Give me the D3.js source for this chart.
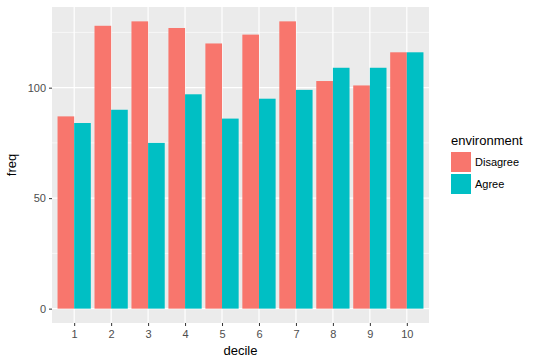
<!DOCTYPE html>
<html>
<head>
<meta charset="utf-8">
<script src="https://cdn.jsdelivr.net/npm/d3@7"></script>
<style>
  body { margin: 0; background: #fff; }
  text { font-family: "Liberation Sans", Arial, sans-serif; }
</style>
</head>
<body>
<div id="chart"></div>
<script>
// values
var deciles = ["1", "2", "3", "4", "5", "6", "7", "8", "9", "10"];
var groups = ["Disagree", "Agree"];
var disagree = [87, 128, 130, 127, 120, 124, 130, 103, 101, 116];
var agree = [84, 90, 75, 97, 86, 95, 99, 109, 109, 116];
var yTicks = [0, 50, 100];
var yMinor = [25, 75, 125];
var colors = ["#F8766D", "#00BFC4"];

var width = 540, height = 362;
var margin = { top: 7, right: 111, bottom: 39, left: 52 };
var pw = width - margin.left - margin.right,
    ph = height - margin.top - margin.bottom;

var rows = deciles.map(function(d, i) {
    return { decile: d, values: [disagree[i], agree[i]] };
});

var svg = d3.select("#chart").append("svg")
    .attr("width", width)
    .attr("height", height);

var g = svg.append("g")
    .attr("transform", "translate(" + margin.left + "," + margin.top + ")");

var maxV = d3.max(disagree.concat(agree));
var y = d3.scaleLinear()
    .domain([-0.05 * maxV, maxV * 1.05])
    .range([ph, 0]);

// discrete axis with ggplot's 0.6 unit padding
var step = pw / (deciles.length - 1 + 1.2);
var x = d3.scalePoint()
    .domain(deciles)
    .range([0.6 * step, pw - 0.6 * step]);
var bw = step * 0.9;
var xSub = d3.scaleBand()
    .domain(groups)
    .range([-bw / 2, bw / 2]);

// panel
g.append("rect")
    .attr("width", pw)
    .attr("height", ph)
    .attr("fill", "#EBEBEB");

g.selectAll(".minor")
    .data(yMinor)
    .enter().append("line")
    .attr("x1", 0).attr("x2", pw)
    .attr("y1", function(d) { return y(d); })
    .attr("y2", function(d) { return y(d); })
    .attr("stroke", "#fff")
    .attr("stroke-width", 0.6);

g.selectAll(".hmajor")
    .data(yTicks)
    .enter().append("line")
    .attr("x1", 0).attr("x2", pw)
    .attr("y1", function(d) { return y(d); })
    .attr("y2", function(d) { return y(d); })
    .attr("stroke", "#fff")
    .attr("stroke-width", 1.2);

g.selectAll(".vmajor")
    .data(deciles)
    .enter().append("line")
    .attr("x1", function(d) { return x(d); })
    .attr("x2", function(d) { return x(d); })
    .attr("y1", 0).attr("y2", ph)
    .attr("stroke", "#fff")
    .attr("stroke-width", 1.2);

// bars
var grp = g.selectAll(".decile")
    .data(rows)
    .enter().append("g")
    .attr("transform", function(d) { return "translate(" + x(d.decile) + ",0)"; });

grp.selectAll("rect")
    .data(function(d) { return d.values.map(function(v, i) { return { key: groups[i], value: v, i: i }; }); })
    .enter().append("rect")
    .attr("x", function(d) { return xSub(d.key); })
    .attr("width", xSub.bandwidth())
    .attr("y", function(d) { return y(d.value); })
    .attr("height", function(d) { return y(0) - y(d.value); })
    .attr("fill", function(d) { return colors[d.i]; });

// axes
var yAxis = g.append("g")
    .call(d3.axisLeft(y).tickValues(yTicks).tickSize(3).tickPadding(3));
var xAxis = g.append("g")
    .attr("transform", "translate(0," + ph + ")")
    .call(d3.axisBottom(x).tickSize(3).tickPadding(4));

[yAxis, xAxis].forEach(function(a) {
    a.select(".domain").remove();
    a.selectAll("line").attr("stroke", "#333333").attr("stroke-width", 1);
    a.selectAll("text")
        .attr("fill", "#4D4D4D")
        .style("font-size", "11px")
        .style("font-family", "'Liberation Sans', Arial, sans-serif");
});

svg.append("text")
    .attr("x", margin.left + pw / 2)
    .attr("y", 355)
    .attr("text-anchor", "middle")
    .style("font-size", "13px")
    .attr("fill", "#000")
    .text("decile");

svg.append("text")
    .attr("transform", "translate(16," + (margin.top + ph / 2) + ")rotate(-90)")
    .attr("text-anchor", "middle")
    .style("font-size", "13px")
    .attr("fill", "#000")
    .text("freq");

// legend
var lg = svg.append("g").attr("transform", "translate(451,0)");
lg.append("text")
    .attr("x", 0).attr("y", 145)
    .style("font-size", "13px")
    .text("environment");

var item = lg.selectAll(".item")
    .data(groups)
    .enter().append("g")
    .attr("transform", function(d, i) { return "translate(0," + (152 + i * 22) + ")"; });
item.append("rect")
    .attr("width", 20).attr("height", 20)
    .attr("fill", function(d, i) { return colors[i]; });
item.append("text")
    .attr("x", 24).attr("y", 14)
    .style("font-size", "11px")
    .attr("fill", "#000")
    .text(function(d) { return d; });
</script>
</body>
</html>
